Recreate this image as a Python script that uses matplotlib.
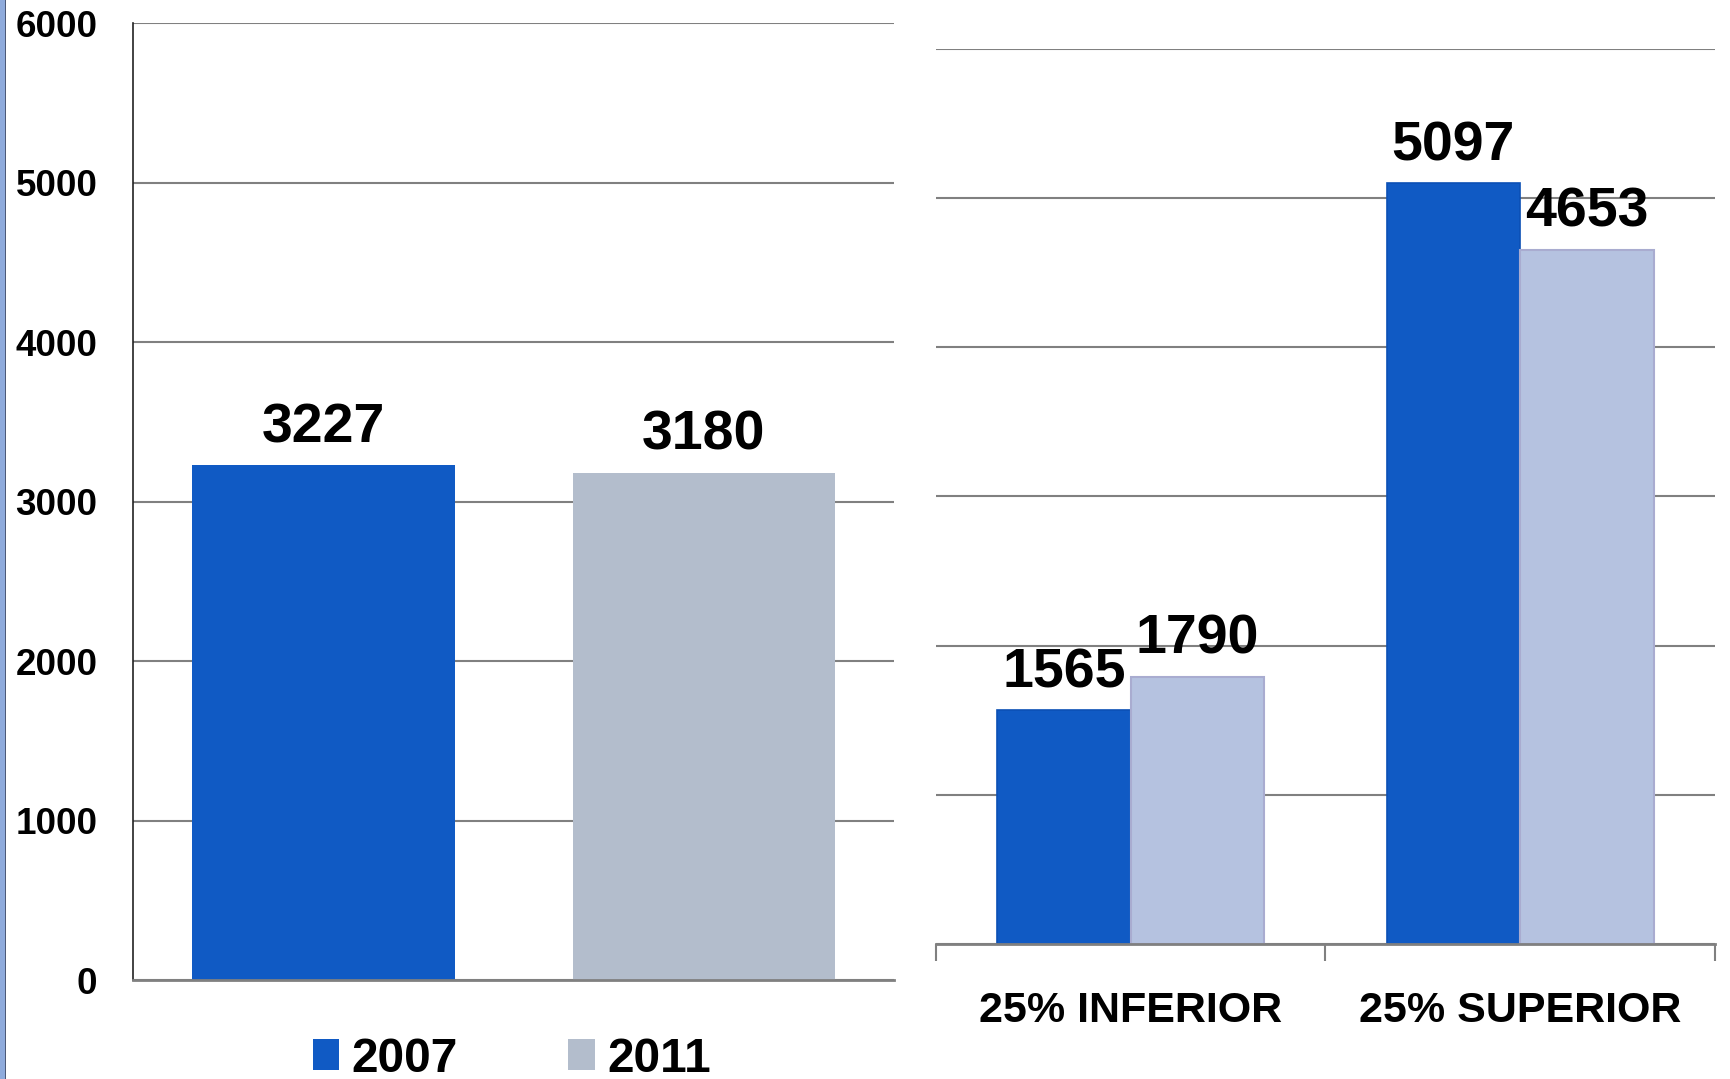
import matplotlib
matplotlib.use("Agg")
import matplotlib.pyplot as plt
from matplotlib.patches import Patch, Rectangle
import numpy as np

plt.rcParams['font.family'] = ['Liberation Sans', 'DejaVu Sans']
plt.rcParams['font.weight'] = 'bold'

# ---- data ----
years = ["2007", "2011"]
overall_values = [3227, 3180]
categories = ["25% INFERIOR", "25% SUPERIOR"]
values_2007 = [1565, 5097]
values_2011 = [1790, 4653]
y_ticks = [0, 1000, 2000, 3000, 4000, 5000, 6000]

BLUE = "#105ac4"
GRAY = "#b3bdcc"
LIGHT = "#b5c2e0"
GRID = "#808080"

W, H = 1731, 1079
fig = plt.figure(figsize=(W / 100, H / 100), dpi=100)

def px(x0, y0, x1, y1):
    return [x0 / W, 1 - y1 / H, (x1 - x0) / W, (y1 - y0) / H]

# ---- left chart ----
ax1 = fig.add_axes(px(133.5, 23.3, 894, 980))
ax1.set_axisbelow(True)
bars = ax1.bar([0, 1], overall_values, width=0.69, color=[BLUE, GRAY], zorder=2)
ax1.set_xlim(-0.5, 1.5)
ax1.set_ylim(0, 6000)
ax1.set_yticks(y_ticks)
ax1.set_yticklabels([str(t) for t in y_ticks], fontsize=26.5, fontweight='bold')
ax1.tick_params(axis='y', length=0, pad=26)
ax1.set_xticks([])
ax1.yaxis.grid(True, color=GRID, linewidth=1.5)
for s in ['top', 'right']:
    ax1.spines[s].set_visible(False)
ax1.spines['left'].set_color('#222222')
ax1.spines['left'].set_linewidth(1.2)
ax1.spines['bottom'].set_color(GRID)
ax1.spines['bottom'].set_linewidth(2)
for b, v in zip(bars, overall_values):
    ax1.annotate(str(v), (b.get_x() + b.get_width() / 2, v), xytext=(0, 8),
                 textcoords='offset points', ha='center', va='bottom',
                 fontsize=40, fontweight='bold')

handles = [Patch(facecolor=BLUE), Patch(facecolor=GRAY)]
fig.legend(handles, years, loc='center', bbox_to_anchor=(512 / W, 1 - 1059 / H),
           ncol=2, frameon=False, handlelength=0.55, handleheight=0.6,
           handletextpad=0.27, columnspacing=2.3, borderpad=0,
           prop={'size': 34.5, 'weight': 'bold'})

# ---- right chart ----
ax2 = fig.add_axes(px(936, 48.6, 1715, 944))
ax2.set_axisbelow(True)
x = np.arange(len(categories))
bw = 0.343
b1 = ax2.bar(x - bw / 2, values_2007, width=bw, color=BLUE, edgecolor="#0c50b5",
             linewidth=1.2, zorder=2)
b2 = ax2.bar(x + bw / 2, values_2011, width=bw, color=LIGHT, edgecolor="#a9acd0",
             linewidth=1.5, zorder=2)
ax2.set_xlim(-0.5, 1.5)
ax2.set_ylim(0, 6000)
ax2.set_yticks(y_ticks)
ax2.set_yticklabels([])
ax2.tick_params(axis='y', length=0)
ax2.yaxis.grid(True, color=GRID, linewidth=1.5)
ax2.set_xticks([-0.5, 0.5, 1.5])
ax2.set_xticklabels([])
ax2.tick_params(axis='x', which='major', length=12, width=1.5, color=GRID, direction='out')
ax2.set_xticks(x, minor=True)
ax2.set_xticklabels(categories, minor=True, fontsize=31, fontweight='bold')
ax2.tick_params(axis='x', which='minor', length=0, pad=34)
for s in ['top', 'right', 'left']:
    ax2.spines[s].set_visible(False)
ax2.spines['bottom'].set_color(GRID)
ax2.spines['bottom'].set_linewidth(2)
for bars_, vals in [(b1, values_2007), (b2, values_2011)]:
    for b, v in zip(bars_, vals):
        ax2.annotate(str(v), (b.get_x() + b.get_width() / 2, v), xytext=(0, 8),
                     textcoords='offset points', ha='center', va='bottom',
                     fontsize=40, fontweight='bold')

# slide border strip at left
fig.patches.append(Rectangle((0, 0), 4.5 / W, 1, transform=fig.transFigure,
                             facecolor="#8fabdc", edgecolor='none', zorder=0))
fig.patches.append(Rectangle((4.5 / W, 0), 1.2 / W, 1, transform=fig.transFigure,
                             facecolor="#4d5a78", edgecolor='none', zorder=0))

fig.savefig("out.png", dpi=100)
